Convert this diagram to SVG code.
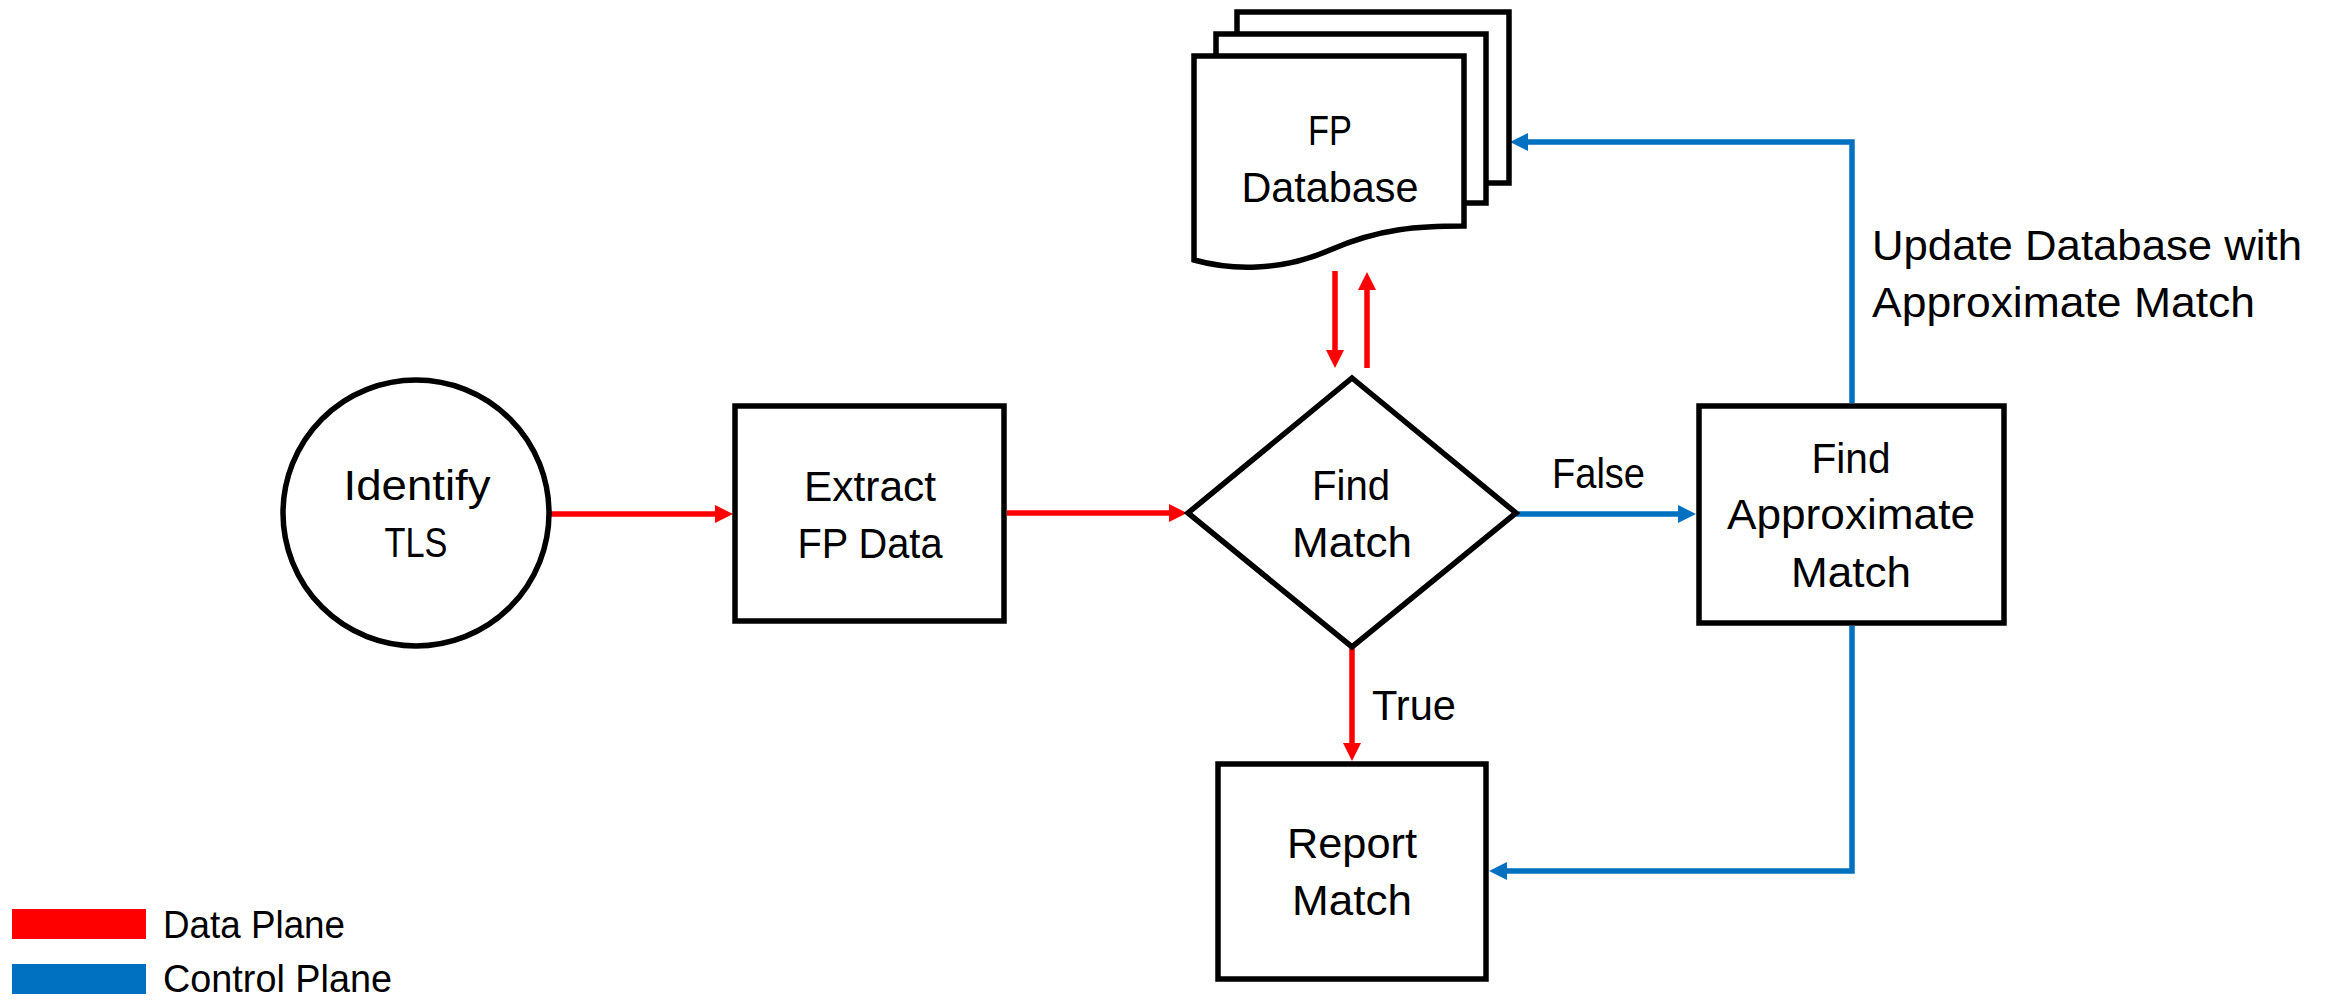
<svg xmlns="http://www.w3.org/2000/svg" width="2336" height="1000" viewBox="0 0 2336 1000">
  <style>
    .shape { fill: #ffffff; stroke: #000000; stroke-width: 5.5; stroke-linejoin: miter; }
    .lbl { font-family: "Liberation Sans", Arial, sans-serif; font-size: 42px; fill: #000000; }
    .mid { text-anchor: middle; }
    .legend { font-family: "Liberation Sans", Arial, sans-serif; font-size: 38px; fill: #000000; }
    .data { stroke: #ff0000; stroke-width: 5.5; fill: none; }
    .ctrl { stroke: #0070c0; stroke-width: 5.5; fill: none; }
  </style>
  <defs>
    <marker id="arrowRed" markerUnits="userSpaceOnUse" markerWidth="18" markerHeight="18" refX="8" refY="9" orient="auto">
      <path d="M0,0 L18,9 L0,18 Z" fill="#ff0000"/>
    </marker>
    <marker id="arrowBlue" markerUnits="userSpaceOnUse" markerWidth="18" markerHeight="18" refX="8" refY="9" orient="auto">
      <path d="M0,0 L18,9 L0,18 Z" fill="#0070c0"/>
    </marker>
  </defs>
  <rect width="2336" height="1000" fill="#ffffff"/>

  <!-- connectors -->
  <g id="connectors">
    <line class="data" x1="551" y1="514" x2="723" y2="514" marker-end="url(#arrowRed)"/>
    <line class="data" x1="1007" y1="513" x2="1177" y2="513" marker-end="url(#arrowRed)"/>
    <line class="data" x1="1335" y1="271" x2="1335" y2="358" marker-end="url(#arrowRed)"/>
    <line class="data" x1="1367" y1="368" x2="1367" y2="282" marker-end="url(#arrowRed)"/>
    <line class="data" x1="1352" y1="647" x2="1352" y2="751" marker-end="url(#arrowRed)"/>
    <line class="ctrl" x1="1516" y1="514" x2="1686" y2="514" marker-end="url(#arrowBlue)"/>
    <polyline class="ctrl" points="1852,403 1852,142 1520,142" marker-end="url(#arrowBlue)"/>
    <polyline class="ctrl" points="1852,626 1852,871 1499,871" marker-end="url(#arrowBlue)"/>
  </g>

  <!-- Identify TLS -->
  <g id="identify-tls">
    <circle class="shape" cx="416" cy="513" r="133"/>
    <text class="lbl mid" x="417" y="500" textLength="147" lengthAdjust="spacingAndGlyphs">Identify</text>
    <text class="lbl mid" x="416" y="557" textLength="63" lengthAdjust="spacingAndGlyphs">TLS</text>
  </g>

  <!-- Extract FP Data -->
  <g id="extract-fp-data">
    <rect class="shape" x="735" y="406" width="269" height="215"/>
    <text class="lbl mid" x="870" y="501" textLength="132" lengthAdjust="spacingAndGlyphs">Extract</text>
    <text class="lbl mid" x="870" y="558" textLength="145" lengthAdjust="spacingAndGlyphs">FP Data</text>
  </g>

  <!-- Find Match decision -->
  <g id="find-match">
    <polygon class="shape" points="1352,378 1516,513 1352,647 1188,513"/>
    <text class="lbl mid" x="1351" y="500" textLength="78" lengthAdjust="spacingAndGlyphs">Find</text>
    <text class="lbl mid" x="1352" y="557" textLength="120" lengthAdjust="spacingAndGlyphs">Match</text>
  </g>

  <!-- FP Database (stacked documents) -->
  <g id="fp-database">
    <rect class="shape" x="1237" y="12" width="272" height="171"/>
    <rect class="shape" x="1216" y="34" width="270" height="169"/>
    <path class="shape" d="M1194,56 H1464 V226 C1420,226 1380,228 1330,250 C1280,272 1230,270 1194,260 Z"/>
    <text class="lbl mid" x="1330" y="145" textLength="44" lengthAdjust="spacingAndGlyphs">FP</text>
    <text class="lbl mid" x="1330" y="202" textLength="177" lengthAdjust="spacingAndGlyphs">Database</text>
  </g>

  <!-- Find Approximate Match -->
  <g id="find-approximate-match">
    <rect class="shape" x="1699" y="406" width="305" height="217"/>
    <text class="lbl mid" x="1851" y="473" textLength="79" lengthAdjust="spacingAndGlyphs">Find</text>
    <text class="lbl mid" x="1851" y="529" textLength="248" lengthAdjust="spacingAndGlyphs">Approximate</text>
    <text class="lbl mid" x="1851" y="587" textLength="120" lengthAdjust="spacingAndGlyphs">Match</text>
  </g>

  <!-- Report Match -->
  <g id="report-match">
    <rect class="shape" x="1218" y="764" width="268" height="215"/>
    <text class="lbl mid" x="1352" y="858" textLength="130" lengthAdjust="spacingAndGlyphs">Report</text>
    <text class="lbl mid" x="1352" y="915" textLength="120" lengthAdjust="spacingAndGlyphs">Match</text>
  </g>

  <!-- edge labels -->
  <g id="edge-labels">
    <text class="lbl" x="1552" y="488" textLength="93" lengthAdjust="spacingAndGlyphs">False</text>
    <text class="lbl" x="1372" y="720" textLength="84" lengthAdjust="spacingAndGlyphs">True</text>
    <text class="lbl" x="1872" y="260" textLength="430" lengthAdjust="spacingAndGlyphs">Update Database with</text>
    <text class="lbl" x="1872" y="317" textLength="383" lengthAdjust="spacingAndGlyphs">Approximate Match</text>
  </g>

  <!-- legend -->
  <g id="legend">
    <rect x="12" y="909" width="134" height="30" fill="#ff0000"/>
    <rect x="12" y="964" width="134" height="30" fill="#0070c0"/>
    <text class="legend" x="163" y="938" textLength="182" lengthAdjust="spacingAndGlyphs">Data Plane</text>
    <text class="legend" x="163" y="992" textLength="229" lengthAdjust="spacingAndGlyphs">Control Plane</text>
  </g>
</svg>
